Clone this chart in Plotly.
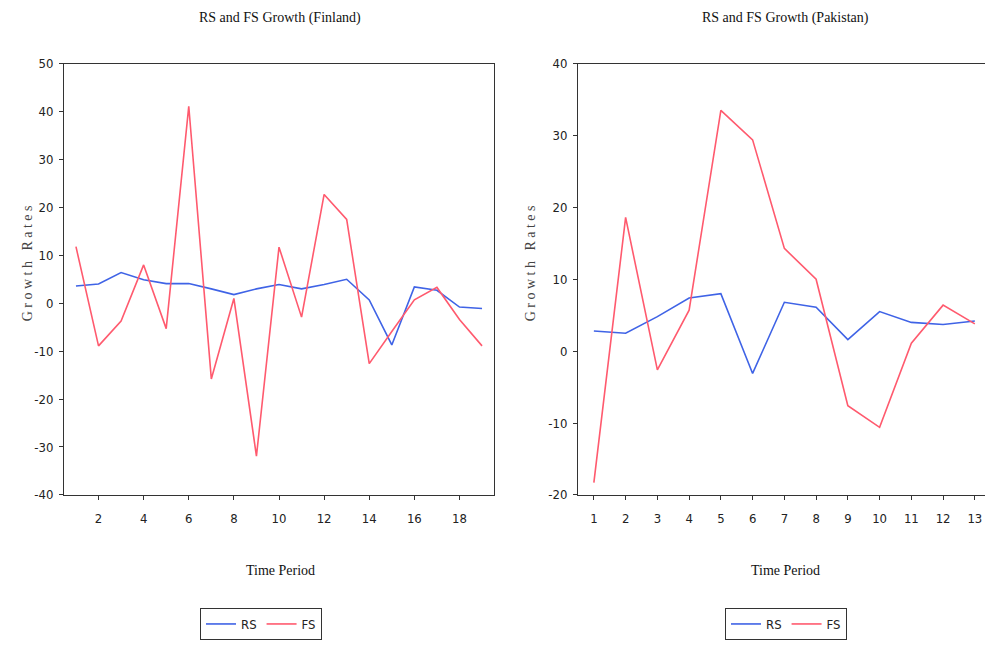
import plotly.graph_objects as go

# ---------------- data ----------------
fin_period = list(range(1, 20))
fin_rs = [3.6, 4.0, 6.4, 4.9, 4.1, 4.1, 3.0, 1.8, 3.0, 3.9, 3.0, 3.9, 5.0, 0.7, -8.7, 3.4, 2.7, -0.8, -1.1]
fin_fs = [11.8, -8.9, -3.7, 8.0, -5.3, 41.1, -15.8, 1.0, -31.9, 11.7, -2.9, 22.7, 17.5, -12.6, -5.9, 0.7, 3.3, -3.4, -8.9]

pak_period = list(range(1, 14))
pak_rs = [2.8, 2.5, 4.8, 7.4, 8.0, -3.1, 6.8, 6.1, 1.6, 5.5, 4.0, 3.7, 4.2]
pak_fs = [-18.3, 18.6, -2.6, 5.7, 33.5, 29.4, 14.3, 10.0, -7.6, -10.6, 1.1, 6.4, 3.8]

fin_xticks = [2, 4, 6, 8, 10, 12, 14, 16, 18]
pak_xticks = list(range(1, 14))
fin_yticks = [50, 40, 30, 20, 10, 0, -10, -20, -30, -40]
pak_yticks = [40, 30, 20, 10, 0, -10, -20]

titles = ["RS and FS Growth (Finland)", "RS and FS Growth (Pakistan)"]

BLUE = "#3f63e6"
RED = "#ff5a6e"
NARROW = "DejaVu Sans Condensed, Liberation Sans Narrow, Arial Narrow, Liberation Sans, sans-serif"
SERIF = "Liberation Serif, Times New Roman, serif"

# page has an 8px body margin: figure is placed at (8, 8); keep page from overflowing
OX, OY = 8, 8
W, H = 993 - 2 * OX, 648 - 2 * OY


def px(x):
    return (x - OX) / W


def py(y):
    return 1 - (y - OY) / H


fig = go.Figure()

fig.add_trace(go.Scatter(x=fin_period, y=fin_rs, mode="lines", name="RS",
                         line=dict(color=BLUE, width=1.6), xaxis="x", yaxis="y", legend="legend"))
fig.add_trace(go.Scatter(x=fin_period, y=fin_fs, mode="lines", name="FS",
                         line=dict(color=RED, width=1.6), xaxis="x", yaxis="y", legend="legend"))
fig.add_trace(go.Scatter(x=pak_period, y=pak_rs, mode="lines", name="RS",
                         line=dict(color=BLUE, width=1.6), xaxis="x2", yaxis="y2", legend="legend2"))
fig.add_trace(go.Scatter(x=pak_period, y=pak_fs, mode="lines", name="FS",
                         line=dict(color=RED, width=1.6), xaxis="x2", yaxis="y2", legend="legend2"))

ydom = [py(498), py(64)]
axis_common = dict(showgrid=False, zeroline=False, showline=True, linecolor="#333333",
                   linewidth=1, ticks="outside", tickcolor="#333333", ticklen=4,
                   automargin=False, ticklabeloverflow="allow",
                   tickfont=dict(family=NARROW, size=13, color="#222222"))


def labels(vals):
    return [str(v) for v in vals]


legend_common = dict(xanchor="center", yanchor="middle", orientation="h",
                     bordercolor="#333333", borderwidth=1,
                     font=dict(family=NARROW, size=13, color="#222222"),
                     itemwidth=30, tracegroupgap=0, bgcolor="white")

fig.update_layout(
    width=W, height=H,
    paper_bgcolor="white", plot_bgcolor="white",
    margin=dict(l=0, r=0, t=0, b=0),
    xaxis=dict(domain=[px(64), px(494)], range=[0.47, 19.53], tickvals=fin_xticks,
               ticktext=labels(fin_xticks), mirror=True, anchor="y",
               ticklabelstandoff=8, **axis_common),
    yaxis=dict(domain=ydom, range=[-40, 50], tickvals=fin_yticks, ticktext=labels(fin_yticks),
               mirror=True, anchor="x", ticklabelstandoff=3, **axis_common),
    xaxis2=dict(domain=[px(578), 1.0], range=[0.5, 13.32], tickvals=pak_xticks,
                ticktext=labels(pak_xticks), mirror=True, anchor="y2",
                ticklabelstandoff=8, **axis_common),
    yaxis2=dict(domain=ydom, range=[-20, 40], tickvals=pak_yticks, ticktext=labels(pak_yticks),
                mirror=False, anchor="x2", ticklabelstandoff=3, **axis_common),
    legend=dict(x=px(261), y=py(628), **legend_common),
    legend2=dict(x=px(786), y=py(628), **legend_common),
    showlegend=True,
)

annos = []
for cx, t in zip([280, 785], titles):
    annos.append(dict(text=t, x=px(cx), y=py(18), xref="paper", yref="paper",
                      showarrow=False, font=dict(family=SERIF, size=14, color="#111111"),
                      xanchor="center", yanchor="middle"))
    annos.append(dict(text="Time Period", x=px(cx), y=py(574), xref="paper", yref="paper",
                      showarrow=False, font=dict(family=SERIF, size=14, color="#111111"),
                      xanchor="center", yanchor="middle"))
for lx in [27, 530]:
    annos.append(dict(text="G r o w t h   R a t e s", x=px(lx), y=py(265), xref="paper",
                      yref="paper", showarrow=False, textangle=-90,
                      font=dict(family=SERIF, size=14, color="#444444"),
                      xanchor="center", yanchor="middle"))
fig.update_layout(annotations=annos)

fig.write_html("out.html")
